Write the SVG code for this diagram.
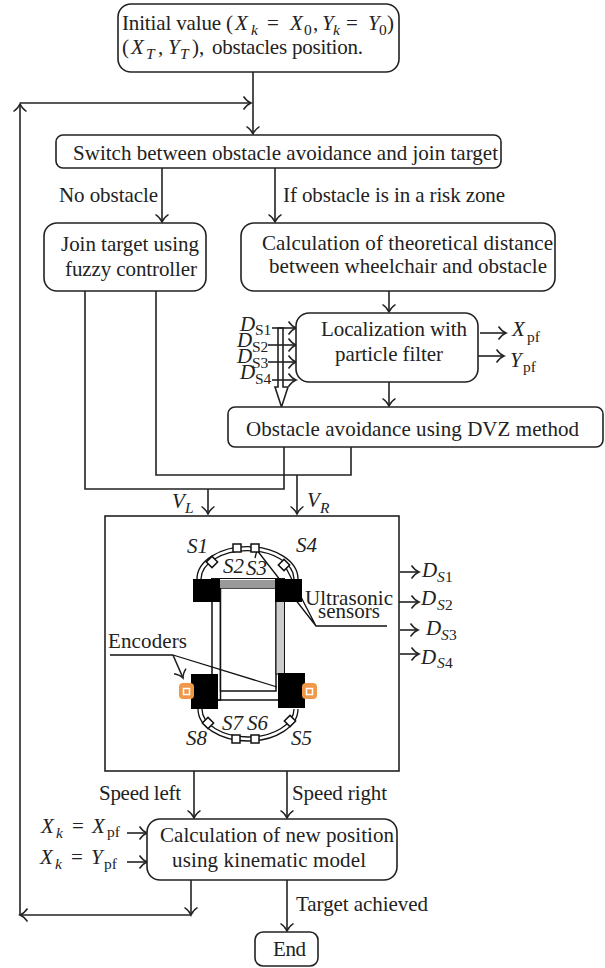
<svg xmlns="http://www.w3.org/2000/svg" width="605" height="968" viewBox="0 0 605 968">
<defs>
<marker id="a" markerUnits="userSpaceOnUse" markerWidth="20" markerHeight="20" refX="15" refY="10" orient="auto"><path d="M7.5 3.5Q11 8.5 15 10Q11 11.500 7.5 16.500" fill="none" stroke="#222" stroke-width="1.5"/></marker>
<rect id="sq" x="-4" y="-4" width="8" height="8" fill="#fff" stroke="#111" stroke-width="1.5"/>
</defs>
<style>
text{font-family:"Liberation Serif","Times New Roman",serif;font-size:21px;fill:#222}
.i{font-style:italic}
.s{font-size:15.500px}
.b{fill:#fff;stroke:#222;stroke-width:1.6}
.l{fill:none;stroke:#222;stroke-width:1.6}
.ar{fill:none;stroke:#222;stroke-width:1.6;marker-end:url(#a)}
.thin{fill:none;stroke:#111;stroke-width:1.3}
</style>
<rect width="605" height="968" fill="#fff"/>
<g id="connectors">
<path class="ar" d="M253 72V134"/>
<path class="ar" d="M20 103H251"/>
<path class="ar" d="M20 915V104"/>
<path class="ar" d="M162 168V222"/>
<path class="ar" d="M275 168V222"/>
<path class="ar" d="M389 291V312"/>
<path class="ar" d="M389 382V406"/>
<path class="l" d="M284 447V489H85V291"/>
<path class="l" d="M351 447V475H156V291"/>
<path class="ar" d="M208 489V514"/>
<path class="ar" d="M297 475V514"/>
<path class="ar" d="M194 771V818"/>
<path class="ar" d="M287 771V818"/>
<path class="ar" d="M191 880V915"/>
<path class="ar" d="M191 915H20"/>
<path class="ar" d="M287 880V931"/>
<path class="ar" d="M272 328H296"/>
<path class="ar" d="M268 345H296"/>
<path class="ar" d="M268 362H296"/>
<path class="ar" d="M272 380H296"/>
<path class="l" d="M278 328V387H275L281.500 407L288 387H283V328Z"/>
<path class="ar" d="M480 333H506"/>
<path class="ar" d="M478 356H504"/>
<path class="ar" d="M400 572H419"/>
<path class="ar" d="M398 602H419"/>
<path class="ar" d="M400 630H418"/>
<path class="ar" d="M400 654H419"/>
<path class="ar" d="M127 833H147"/>
<path class="ar" d="M127 862H147"/>
</g>
<g id="n-init"><rect class="b" x="118" y="4" width="281" height="68" rx="13"/>
<text y="30"><tspan x="122" textLength="111">Initial value (</tspan><tspan class="i" x="235">X</tspan><tspan class="i s" x="251" y="35">k</tspan><tspan x="267" y="30">=</tspan><tspan class="i" x="290">X</tspan><tspan class="s" x="304" y="35">0</tspan><tspan x="313" y="30">,</tspan><tspan class="i" x="322">Y</tspan><tspan class="i s" x="333" y="35">k</tspan><tspan x="346" y="30">=</tspan><tspan class="i" x="368">Y</tspan><tspan class="s" x="379" y="35">0</tspan><tspan x="387" y="30">)</tspan></text>
<text y="54"><tspan x="122">(</tspan><tspan class="i" x="131">X</tspan><tspan class="i s" x="146" y="59">T</tspan><tspan x="158" y="54">,</tspan><tspan class="i" x="168">Y</tspan><tspan class="i s" x="180" y="59">T</tspan><tspan x="192" y="54">),</tspan><tspan x="212" textLength="151">obstacles position.</tspan></text></g>
<g id="n-switch"><rect class="b" x="56" y="135" width="445" height="33" rx="7"/>
<text x="73" y="160" textLength="425">Switch between obstacle avoidance and join target</text></g>
<g id="n-join"><rect class="b" x="44" y="223" width="162" height="68" rx="13"/>
<text x="61" y="251" textLength="138">Join target using</text><text x="65" y="276" textLength="132">fuzzy controller</text></g>
<g id="n-calc"><rect class="b" x="241" y="223" width="314" height="68" rx="13"/>
<text x="262" y="250" textLength="291">Calculation of theoretical distance</text><text x="269" y="273" textLength="278">between wheelchair and obstacle</text></g>
<g id="n-loc"><rect class="b" x="296" y="313" width="182" height="69" rx="13"/>
<text x="321" y="336" textLength="146">Localization with</text><text x="335" y="361" textLength="108">particle filter</text></g>
<g id="n-dvz"><rect class="b" x="228" y="407" width="375" height="40" rx="7"/>
<text x="246" y="436" textLength="333">Obstacle avoidance using DVZ method</text></g>
<g id="n-robot"><rect class="b" x="105" y="516" width="294" height="255"/>
<g id="car">
<path d="M211 578.500H285" fill="none" stroke="#111" stroke-width="1"/>
<rect x="212" y="588" width="8.500" height="112" fill="#fff" stroke="#111" stroke-width="1.500"/>
<rect x="220.500" y="588" width="55.500" height="103" fill="#fff" stroke="#111" stroke-width="1.500"/>
<path d="M212 700H284V691" fill="none" stroke="#111" stroke-width="1.500"/>
<rect x="276" y="600" width="8.500" height="74" fill="#ccc" stroke="#111" stroke-width="1"/>
<rect x="220" y="580" width="56" height="8" fill="#999"/>
<path class="thin" d="M197 579A50 32 0 0 1 298 579M201 579A46 28 0 0 1 294 579"/>
<path class="thin" d="M198 709A50 32 0 0 0 298 709M202 709A46 28 0 0 0 294 709"/>
<path class="thin" d="M256 549L316 626M285 566L316 626H387M173 655L277 687M110 655H173M257 550L255 558"/>
<path class="ar" d="M173 655L183 678"/>
<rect x="193" y="579" width="27" height="23" fill="#000"/>
<rect x="275" y="579" width="27" height="23" fill="#000"/>
<rect x="191" y="674" width="27" height="35" fill="#000"/>
<rect x="278" y="673" width="27" height="35" fill="#000"/>
<use href="#sq" x="237" y="548"/><use href="#sq" x="255" y="548"/>
<use href="#sq" transform="translate(212 562) rotate(45)"/><use href="#sq" transform="translate(284 565) rotate(45)"/>
<use href="#sq" x="236" y="739"/><use href="#sq" x="255" y="739"/>
<use href="#sq" transform="translate(208 723) rotate(45)"/><use href="#sq" transform="translate(290 721) rotate(45)"/>
<rect x="179" y="683" width="15" height="16" rx="4" fill="#f09848"/><rect x="183.500" y="688.500" width="6" height="6" fill="#f09848" stroke="#fff" stroke-width="1.500"/>
<rect x="302" y="683" width="15" height="16" rx="4" fill="#f09848"/><rect x="306.500" y="688.500" width="6" height="6" fill="#f09848" stroke="#fff" stroke-width="1.500"/>
</g>
<text class="i" x="187" y="553">S1</text><text class="i" x="223" y="573">S2</text><text class="i" x="246" y="575">S3</text><text class="i" x="296" y="552">S4</text>
<text class="i" x="291" y="745">S5</text><text class="i" x="247" y="730">S6</text><text class="i" x="222" y="730">S7</text><text class="i" x="186" y="745">S8</text>
<text x="305" y="605" textLength="88">Ultrasonic</text><text x="318" y="618" textLength="62">sensors</text>
<text x="108" y="648" textLength="79">Encoders</text></g>
<g id="labels">
<text x="59" y="202" textLength="99">No obstacle</text>
<text x="283" y="202" textLength="222">If obstacle is in a risk zone</text>
<text class="i" x="240" y="331">D</text><text class="s" x="255" y="335">S1</text>
<text class="i" x="237" y="347">D</text><text class="s" x="252" y="352">S2</text>
<text class="i" x="237" y="363">D</text><text class="s" x="252" y="368">S3</text>
<text class="i" x="240" y="379">D</text><text class="s" x="255" y="384">S4</text>
<text class="i" x="512" y="336">X</text><text class="s" x="527" y="342">pf</text>
<text class="i" x="510" y="367">Y</text><text class="s" x="523" y="372">pf</text>
<text class="i" x="172" y="508">V</text><text class="i s" x="185" y="513">L</text>
<text class="i" x="307" y="507">V</text><text class="i s" x="320" y="513">R</text>
<text class="i" x="422" y="577">D</text><text class="i s" x="437" y="582">S</text><text class="s" x="445" y="582">1</text>
<text class="i" x="421" y="605">D</text><text class="i s" x="437" y="610">S</text><text class="s" x="445" y="610">2</text>
<text class="i" x="426" y="635">D</text><text class="i s" x="441" y="640">S</text><text class="s" x="449" y="640">3</text>
<text class="i" x="421" y="664">D</text><text class="i s" x="437" y="668">S</text><text class="s" x="445" y="668">4</text>
<text x="99" y="800" textLength="82">Speed left</text>
<text x="292" y="800" textLength="95">Speed right</text>
<text y="833"><tspan class="i" x="41">X</tspan><tspan class="i s" x="56" y="838">k</tspan><tspan x="72" y="833">=</tspan><tspan class="i" x="92">X</tspan><tspan class="s" x="107" y="837">pf</tspan></text>
<text y="864"><tspan class="i" x="40">X</tspan><tspan class="i s" x="55" y="869">k</tspan><tspan x="71" y="864">=</tspan><tspan class="i" x="91">Y</tspan><tspan class="s" x="104" y="869">pf</tspan></text>
<text x="296" y="911" textLength="132">Target achieved</text>
</g>
<g id="n-new"><rect class="b" x="147" y="819" width="250" height="61" rx="13"/>
<text x="160" y="842" textLength="234">Calculation of new position</text><text x="172" y="867" textLength="194">using kinematic model</text></g>
<g id="n-end"><rect class="b" x="255" y="932" width="63" height="34" rx="8"/>
<text x="273" y="956" textLength="33">End</text></g>
</svg>
